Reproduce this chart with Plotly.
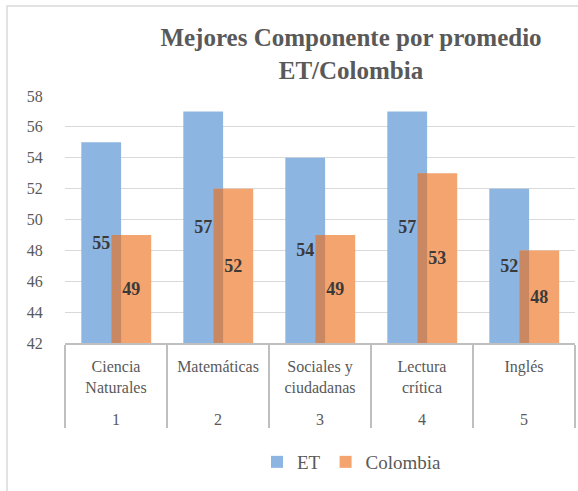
import plotly.graph_objects as go

# data
componentes = ["Ciencia<br>Naturales", "Matemáticas", "Sociales y<br>ciudadanas", "Lectura<br>crítica", "Inglés"]
numeros = ["1", "2", "3", "4", "5"]
et = [55, 57, 54, 57, 52]
colombia = [49, 52, 49, 53, 48]

serif = "Liberation Serif"
gris = "#595959"
base = 42  # axis starts at 42, bars drawn from there so labels sit mid-bar
x = [["<br>" + n for n in numeros], componentes]

fig = go.Figure()

# ET bars
fig.add_trace(go.Bar(
    x=x, y=[v - base for v in et], base=base, name="ET",
    marker=dict(color="#8DB5E2", line=dict(width=0)),
    offset=-0.34, width=0.39,
    text=et, textposition="inside", insidetextanchor="middle",
    textfont=dict(family=serif, size=18, color="#3a3a3a", weight="bold"),
))

# Colombia bars
fig.add_trace(go.Bar(
    x=x, y=[v - base for v in colombia], base=base, name="Colombia",
    marker=dict(color="#F3A46F", line=dict(width=0)),
    offset=-0.045, width=0.39,
    text=colombia, textposition="inside", insidetextanchor="middle",
    textfont=dict(family=serif, size=18, color="#3a3a3a", weight="bold"),
))

# darker strip where the two bars overlap
fig.add_trace(go.Bar(
    x=x, y=[v - base for v in colombia], base=base,
    showlegend=False, hoverinfo="skip",
    marker=dict(color="#C98862", line=dict(width=0)),
    offset=-0.045, width=0.095,
))

fig.update_layout(
    width=578, height=491,
    barmode="overlay",
    plot_bgcolor="white", paper_bgcolor="white",
    margin=dict(l=65, r=3, t=96, b=148, autoexpand=False),
    title=dict(
        text="Mejores Componente por promedio<br>ET/Colombia",
        x=351 / 578, xanchor="center",
        y=1 - 46 / 491, yanchor="top",
        font=dict(family=serif, size=25, color=gris, weight="bold"),
    ),
    legend=dict(
        orientation="h",
        x=352 / 578, xref="container", xanchor="center",
        y=1 - 462 / 491, yref="container", yanchor="middle",
        font=dict(family=serif, size=19, color=gris),
        itemwidth=30,
    ),
)

fig.update_yaxes(
    range=[42, 58], dtick=2,
    showgrid=True, gridcolor="#D9D9D9", gridwidth=1,
    zeroline=False, showline=False, automargin=False,
    ticks="outside", ticklen=18, tickcolor="rgba(0,0,0,0)",
    tickfont=dict(family=serif, size=16, color=gris),
)

fig.update_xaxes(
    type="multicategory", automargin=False,
    showline=True, linecolor="#BFBFBF", linewidth=1.5,
    ticklabelstandoff=8,
    showdividers=True, dividercolor="#BFBFBF", dividerwidth=1.5,
    tickfont=dict(family=serif, size=16, color=gris),
)

# outer frame of the chart
fig.add_shape(type="rect", xref="paper", yref="paper",
              x0=-0.1137, x1=1.2, y0=-1, y1=1.364,
              line=dict(color="#D9D9D9", width=1.5), layer="below")

# page body margin would shift the chart by 8px
fig.write_html("out.html", config={"displayModeBar": False},
               post_script="document.body.style.margin = '0';")
